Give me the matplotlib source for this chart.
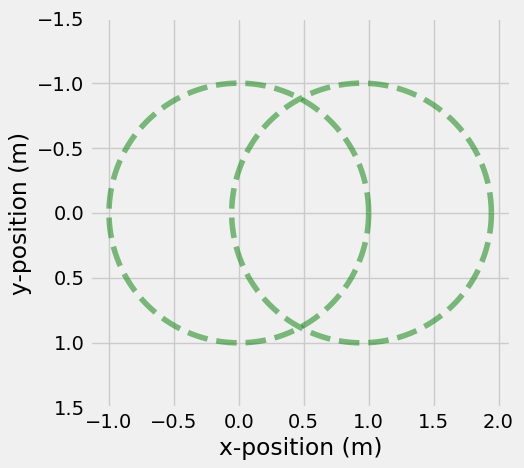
import numpy as np
import matplotlib
matplotlib.use("Agg")
import matplotlib.pyplot as plt

plt.style.use("fivethirtyeight")

# circle trajectories: (center x, center y, radius)
circle_cx = [0.0, 0.945]
circle_cy = [0.0, 0.0]
circle_r = [1.0, 1.0]
x_ticks = [-1.0, -0.5, 0.0, 0.5, 1.0, 1.5, 2.0]
y_ticks = [-1.5, -1.0, -0.5, 0.0, 0.5, 1.0, 1.5]

fig = plt.figure(figsize=(5.24, 4.68), dpi=100)
fig.patch.set_facecolor("#f0f0f0")
ax = fig.add_axes([89.5 / 524, 60 / 468, 422 / 524, 390 / 468])

t = np.linspace(0, 2 * np.pi, 400)
for cx, cy, r in zip(circle_cx, circle_cy, circle_r):
    ax.plot(cx + r * np.cos(t), cy + r * np.sin(t), "--", color="green", alpha=0.5, lw=4)

ax.set_xlim(-1.15, 2.1)
ax.set_ylim(1.5, -1.5)
ax.set_aspect("equal")
ax.set_xticks(x_ticks)
ax.set_yticks(y_ticks)
ax.set_xlabel("x-position (m)")
ax.set_ylabel("y-position (m)")

fig.savefig("out.png", dpi=100, facecolor=fig.get_facecolor())
